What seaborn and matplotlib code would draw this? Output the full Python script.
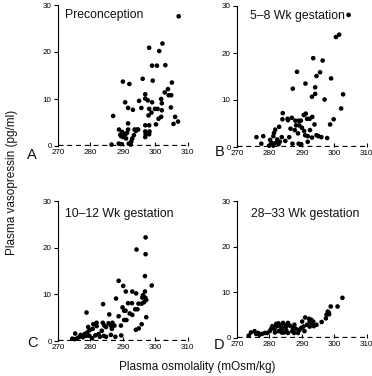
"""
Plasma vasopressin vs plasma osmolality across pregnancy (4 panels)
"""

import pandas as pd
import matplotlib
matplotlib.use('Agg')
import matplotlib.pyplot as plt
import seaborn as sns

# ---- data ----
titles = ['Preconception', '5–8 Wk gestation', '10–12 Wk gestation', '28–33 Wk gestation']
letters = ['A', 'B', 'C', 'D']
x_ticks = [270, 280, 290, 300, 310]
y_ticks = [0, 10, 20, 30]

pre_osm = [307.2, 302.2, 301.2, 298.1, 299.0, 300.5, 303.1, 290.0, 292.0, 296.1, 299.2, 305.1, 303.9,
           302.9, 304.1, 304.9, 296.9, 296.9, 295.0, 297.7, 299.0, 301.8, 302.0, 290.7, 291.6, 293.1,
           295.7, 298.1, 299.9, 300.7, 302.0, 304.8, 287.0, 297.9, 298.8, 301.0, 301.8, 306.1, 307.0,
           305.6, 291.6, 296.9, 298.1, 300.2, 288.8, 289.8, 289.2, 289.4, 290.4, 290.9, 291.6, 291.3,
           290.1, 291.0, 293.6, 294.0, 294.3, 294.7, 293.4, 292.9, 292.6, 292.4, 296.9, 298.2, 297.0,
           298.1, 296.9, 286.5, 288.7, 289.5, 291.8, 292.4]
pre_avp = [27.6, 21.8, 20.2, 20.9, 17.1, 17.1, 17.2, 13.7, 13.2, 14.3, 13.9, 13.5, 12.1,
           11.4, 10.8, 10.8, 11.0, 10.1, 9.6, 9.7, 9.3, 10.0, 9.1, 9.3, 8.1, 7.7,
           8.1, 7.9, 7.9, 7.9, 7.6, 8.2, 6.4, 6.5, 7.1, 5.8, 6.2, 6.2, 5.2,
           4.7, 4.8, 4.4, 4.4, 4.6, 3.5, 3.0, 2.4, 2.1, 2.5, 2.6, 3.5, 2.8,
           1.9, 1.6, 3.5, 3.2, 3.5, 3.5, 2.3, 1.6, 1.0, 0.5, 3.1, 3.1, 2.5,
           2.5, 1.9, 0.3, 0.5, 0.4, 0.5, 0.3]

wk5_osm = [304.4, 300.5, 301.5, 293.5, 296.4, 288.5, 295.6, 294.5, 299.0, 291.1, 294.1, 287.2, 294.1,
           293.1, 297.0, 302.7, 302.1, 284.1, 291.2, 290.6, 293.2, 299.8, 298.7, 284.0, 285.7, 288.0,
           289.0, 289.7, 291.6, 292.4, 288.2, 289.2, 293.9, 283.0, 281.8, 286.5, 287.8, 290.0, 290.7,
           292.5, 281.4, 281.2, 276.0, 278.1, 283.8, 286.1, 288.8, 291.0, 291.8, 293.1, 294.5, 295.1,
           296.0, 297.8, 277.5, 280.6, 281.4, 282.0, 282.8, 283.2, 281.2, 279.9, 287.1, 289.0, 289.8,
           291.8, 284.9, 280.2, 282.4, 285.6, 286.9]
wk5_avp = [28.1, 23.4, 23.9, 18.9, 18.4, 16.0, 15.9, 15.1, 14.6, 13.5, 12.7, 12.4, 11.3,
           10.7, 10.1, 11.2, 8.2, 7.2, 7.1, 6.8, 6.4, 5.9, 4.8, 5.9, 5.7, 5.6,
           5.6, 5.6, 6.0, 6.0, 4.6, 4.6, 4.8, 4.3, 3.7, 3.9, 3.6, 4.1, 3.4,
           3.6, 3.0, 2.3, 2.1, 2.3, 2.1, 2.1, 2.9, 2.5, 2.3, 2.0, 2.5, 2.3,
           2.1, 1.9, 0.7, 0.9, 0.7, 0.9, 0.6, 1.1, 0.3, 0.3, 0.7, 0.7, 0.6,
           1.1, 1.3, 1.5, 1.6, 6.0, 6.2]

wk10_osm = [297.0, 294.2, 297.0, 296.8, 288.7, 290.1, 298.9, 290.9, 292.9, 294.1, 296.2, 296.8, 296.0,
            296.9, 287.9, 291.6, 292.8, 294.8, 295.8, 296.5, 297.2, 278.8, 283.9, 289.9, 290.4, 290.8,
            293.8, 294.5, 292.1, 288.7, 285.8, 290.4, 291.1, 292.9, 297.2, 295.8, 294.9, 294.0, 289.4,
            280.9, 281.9, 281.9, 283.8, 284.3, 284.8, 285.6, 286.3, 286.8, 287.4, 286.6, 279.3, 279.7,
            280.7, 278.2, 278.7, 277.7, 276.6, 276.0, 275.3, 279.7, 280.5, 281.5, 282.5, 282.9, 284.1,
            284.8, 286.3, 287.7, 289.5, 274.4, 275.1, 277.0, 279.0, 283.5]
wk10_avp = [22.2, 19.6, 18.6, 13.9, 12.9, 11.8, 11.9, 10.6, 10.6, 10.2, 9.8, 10.6, 9.3,
            9.3, 9.1, 8.1, 8.1, 8.0, 8.0, 8.3, 8.8, 6.1, 7.9, 7.2, 6.5, 6.5,
            6.8, 6.8, 5.9, 5.3, 5.7, 4.5, 4.5, 5.6, 5.1, 3.6, 2.7, 2.4, 3.3,
            3.6, 3.9, 3.2, 3.9, 3.3, 3.0, 3.8, 3.3, 3.9, 3.3, 2.6, 3.0, 2.3,
            2.6, 1.5, 1.1, 0.8, 0.9, 0.6, 1.6, 1.1, 0.6, 1.2, 1.5, 0.9, 1.1,
            0.9, 1.3, 0.9, 1.2, 0.5, 0.4, 1.3, 1.8, 2.2]

wk28_osm = [302.5, 301.0, 298.9, 298.0, 298.3, 297.6, 298.4, 298.2, 297.4, 296.1, 292.9, 292.4, 292.2,
            293.5, 292.9, 291.6, 292.4, 293.7, 290.1, 290.5, 289.8, 289.3, 288.8, 287.7, 287.2, 286.3,
            285.7, 285.1, 284.0, 283.5, 282.6, 282.0, 281.1, 282.8, 281.7, 280.1, 279.3, 278.6, 277.7,
            276.9, 276.5, 275.9, 275.4, 274.3, 273.6, 287.6, 287.0, 285.7, 285.2, 284.5, 283.8, 280.9,
            280.5, 281.5, 282.1, 282.8, 283.5, 284.2, 285.0, 291.0, 294.5, 290.8, 288.2]
wk28_avp = [8.8, 6.9, 6.9, 5.8, 5.4, 5.1, 5.2, 5.6, 4.3, 3.5, 4.0, 3.6, 4.2,
            3.6, 3.3, 2.9, 2.5, 2.6, 3.6, 2.5, 2.2, 1.8, 1.1, 2.9, 2.2, 2.7,
            3.3, 2.5, 2.2, 1.8, 2.7, 2.5, 2.2, 1.5, 1.2, 1.5, 1.1, 1.1, 0.9,
            0.7, 1.1, 0.9, 1.5, 1.2, 0.5, 1.1, 1.5, 1.1, 1.7, 1.2, 1.2, 2.6,
            2.0, 2.0, 3.1, 3.2, 2.6, 3.3, 2.7, 4.5, 2.9, 1.5, 2.0]

panels = [
    (pre_osm, pre_avp),
    (wk5_osm, wk5_avp),
    (wk10_osm, wk10_avp),
    (wk28_osm, wk28_avp),
]

W, H = 372, 376
# left px of y-axis, px of y=0, px of y=30
rects = [(58, 146, 5), (237, 147, 6), (58, 341, 201), (237, 338, 201)]
letter_pos = [(32, 155), (220, 152), (32, 343), (219, 345)]
title_xy = [(272.2, 27.9), (274.0, 27.9), (272.2, 27.3), (274.3, 27.2)]

sns.set_style('ticks')
plt.rcParams['font.family'] = ['Liberation Sans', 'DejaVu Sans']

fig = plt.figure(figsize=(W / 100, H / 100), dpi=100)

for i, (xs, ys) in enumerate(panels):
    left, y0, y30 = rects[i]
    ax = fig.add_axes([left / W, (H - y0) / H, 133 / W, (y0 - y30) / H])
    df = pd.DataFrame({'osm': xs, 'avp': ys})
    sns.scatterplot(data=df, x='osm', y='avp', ax=ax, color='black', s=11,
                    edgecolor='none', clip_on=False, legend=False)
    ax.set_xlim(270, 311)
    ax.set_ylim(0, 30)
    ax.set_xlabel('')
    ax.set_ylabel('')

    # detection-limit dashed baseline doubles as the x axis
    ax.axhline(0.15, xmin=0, xmax=40 / 41, color='black', lw=0.9, dashes=(4, 3))
    sns.despine(ax=ax, top=True, right=True, bottom=True)
    ax.spines['left'].set_linewidth(0.8)
    ax.spines['left'].set_color('black')

    ax.set_xticks(x_ticks)
    ax.set_yticks(y_ticks)
    ax.tick_params(axis='x', direction='in', length=3, width=0.8, pad=2.5,
                   labelsize=5.8, colors='black')
    ax.tick_params(axis='y', direction='out', length=3, width=0.8, pad=1.5,
                   labelsize=5.8, colors='black')

    ax.text(title_xy[i][0], title_xy[i][1], titles[i], fontsize=8.8,
            ha='left', va='center', color='#111111')
    lx, ly = letter_pos[i]
    fig.text(lx / W, (H - ly) / H, letters[i], fontsize=10.5,
             ha='center', va='center', color='#111111')

fig.text(12 / W, (H - 182) / H, 'Plasma vasopressin (pg/ml)', rotation=90,
         fontsize=8.5, ha='center', va='center', color='#111111')
fig.text(197 / W, (H - 367) / H, 'Plasma osmolality (mOsm/kg)',
         fontsize=8.5, ha='center', va='center', color='#111111')

fig.savefig('out.png', dpi=100)
